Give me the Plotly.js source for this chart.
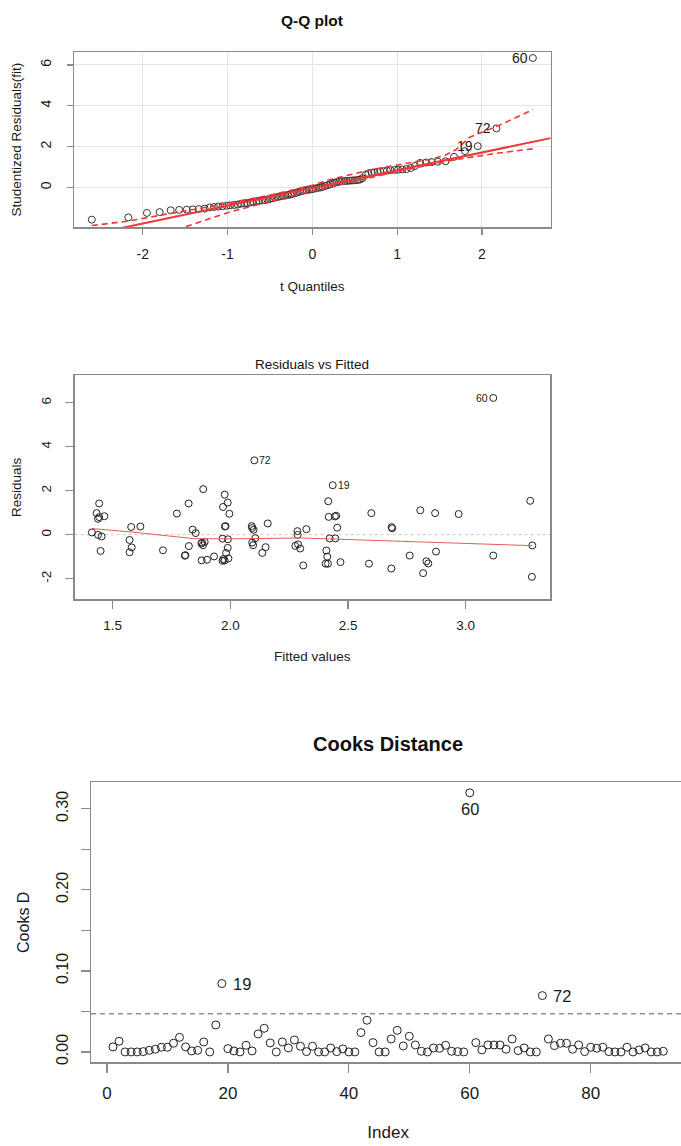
<!DOCTYPE html>
<html><head><meta charset="utf-8">
<script src="https://cdn.plot.ly/plotly-3.0.1.min.js"></script>
<style>html,body{margin:0;padding:0;overflow:hidden;background:#fff;width:681px;height:1146px}#chart{width:690px;height:1146px}</style>
</head><body><div id="chart"></div>
<script>
// ---------- Panel 1: Q-Q plot ----------
const qqTheoretical = [-2.60,-2.17,-1.95,-1.80,-1.67,-1.57,-1.48,-1.41,-1.34,-1.27,-1.21,-1.16,-1.11,-1.06,-1.01,-0.97,-0.92,-0.88,-0.84,-0.80,-0.77,-0.73,-0.70,-0.66,-0.63,-0.59,-0.56,-0.53,-0.50,-0.47,-0.44,-0.41,-0.38,-0.35,-0.32,-0.29,-0.26,-0.24,-0.21,-0.18,-0.15,-0.12,-0.10,-0.07,-0.04,-0.01,
  0.01,0.04,0.07,0.10,0.12,0.15,0.18,0.21,0.24,0.26,0.29,0.32,0.35,0.38,0.41,0.44,0.47,0.50,0.53,0.56,0.59,0.63,0.66,0.70,0.73,0.77,0.80,0.84,0.88,0.92,0.97,1.01,1.06,1.11,1.16,1.21,1.27,1.34,1.41,1.48,1.57,1.67,1.80,1.95,2.17,2.60];
const qqStudentized = [-1.58,-1.47,-1.25,-1.21,-1.12,-1.10,-1.09,-1.08,-1.06,-1.04,-0.98,-0.96,-0.94,-0.92,-0.90,-0.88,-0.86,-0.84,-0.80,-0.78,-0.77,-0.74,-0.70,-0.68,-0.66,-0.64,-0.62,-0.60,-0.56,-0.53,-0.50,-0.47,-0.44,-0.42,-0.40,-0.37,-0.35,-0.32,-0.29,-0.25,-0.21,-0.18,-0.15,-0.13,-0.11,-0.09,
  -0.07,-0.05,-0.02,0.00,0.03,0.07,0.11,0.15,0.19,0.23,0.26,0.28,0.30,0.31,0.32,0.33,0.34,0.35,0.36,0.38,0.45,0.62,0.68,0.72,0.74,0.76,0.78,0.80,0.82,0.84,0.86,0.87,0.88,0.90,0.95,1.05,1.20,1.22,1.24,1.26,1.28,1.50,1.78,2.02,2.89,6.34];
const qqLabelText = ['19','72','60'];
const qqLabelIndex = [89, 90, 91];
const qqLineX = [-2.81, 2.81];
const qqLineY = [-2.475, 2.415];
const qqUpperX = [-2.60,-2.17,-1.68,-1.19,-0.50,0.00,0.20,0.68,1.00,1.38,1.55,1.70,1.85,2.17,2.60];
const qqUpperY = [-1.87,-1.65,-1.28,-0.93,-0.38,0.10,0.38,0.85,1.10,1.37,1.55,1.86,2.45,2.98,3.81];
const qqLowerX = [-1.49,-1.00,-0.50,0.00,0.50,1.00,1.40,1.70,2.17,2.60];
const qqLowerY = [-1.92,-1.24,-0.68,-0.18,0.30,0.78,1.13,1.37,1.67,1.89];

// ---------- Panel 2: Residuals vs Fitted ----------
const fittedValues = [1.412,1.432,1.443,1.438,1.443,1.465,1.438,1.453,1.449,1.572,1.579,1.581,1.572,1.618,1.714,1.773,1.823,1.840,1.853,1.824,1.807,1.809,1.885,1.877,1.884,1.891,1.880,1.878,1.901,1.931,
  1.976,1.969,1.989,1.996,1.977,1.980,1.967,1.990,1.989,1.982,1.970,1.967,1.976,1.992,2.091,2.093,2.099,2.106,2.093,2.097,2.150,2.159,2.136,2.102,2.276,2.285,2.286,2.288,2.297,2.323,2.310,
  2.408,2.412,2.405,2.415,2.416,2.418,2.422,2.446,2.444,2.450,2.454,2.468,2.435,2.599,2.589,2.685,2.688,2.684,2.762,2.807,2.819,2.833,2.841,2.870,2.874,2.970,3.117,3.117,3.274,3.283,3.281];
const residualValues = [0.10,0.98,1.42,0.72,0.80,0.84,-0.01,-0.08,-0.74,-0.24,0.35,-0.58,-0.80,0.37,-0.71,0.96,1.42,0.23,0.07,-0.52,-0.96,-0.93,2.07,-0.40,-0.48,-0.33,-0.36,-1.17,-1.14,-0.99,
  1.82,1.26,1.46,0.95,0.37,0.39,-0.18,-0.21,-0.60,-0.83,-1.11,-1.19,-1.17,-1.08,0.39,0.30,0.22,-0.16,-0.36,-0.48,-0.57,0.51,-0.83,3.38,-0.51,0.16,-0.01,-0.44,-0.63,0.25,-1.40,
  -0.72,-1.00,-1.32,-1.32,1.52,0.81,-0.17,-0.17,0.83,0.86,0.32,-1.25,2.25,0.98,-1.32,0.34,0.29,-1.54,-0.95,1.11,-1.75,-1.21,-1.31,0.98,-0.77,0.94,-0.95,6.22,1.54,-0.49,-1.92];
const residLabelText = ['72','19','60'];
const residLabelIndex = [53, 73, 88];
const residLabelSide = ['right','right','left'];
const lowessX = [1.412,1.60,1.843,2.00,2.30,2.45,2.70,3.00,3.283];
const lowessY = [0.28,0.10,-0.18,-0.19,-0.15,-0.20,-0.30,-0.40,-0.50];

// ---------- Panel 3: Cooks Distance ----------
const cooksD = [0.0062,0.0132,0,0,0,0.0004,0.002,0.0033,0.0058,0.0058,
  0.0107,0.018,0.0062,0.0012,0.002,0.0123,0,0.0333,0.0844,0.0041,
  0.0012,0,0.0082,0.0012,0.0222,0.0292,0.0111,0,0.0123,0.0049,
  0.0148,0.007,0.0004,0.007,0,0,0.0049,0.0004,0.0037,0,
  0,0.0239,0.0391,0.0115,0,0,0.016,0.0267,0.0074,0.0193,
  0.0086,0.0008,0,0.0049,0.0045,0.0082,0.0008,0.0004,0,0.3198,
  0.0115,0.0025,0.0086,0.0086,0.0086,0.0033,0.016,0.0016,0.0049,0,
  0,0.0695,0.016,0.0078,0.0107,0.0107,0.0033,0.0086,0.0004,0.0058,
  0.0045,0.0058,0.0004,0,0,0.0058,0,0.0025,0.0049,0,
  0,0.0008];
const cooksIndex = cooksD.map((_, i) => i + 1);
const cooksCutoff = 0.047;
const cooksLabelText = ['19','60','72'];
const cooksLabelIndex = [19, 60, 72];

// ---------- layout helpers ----------
const W = 690, H = 1146;
const px = v => v / W;
const py = v => 1 - v / H;
const FONT = 'Liberation Sans, Arial, sans-serif';
const BOX = '#8a8a8a';
const TXT = '#1a1a1a';

const circle = (size, color) => ({symbol: 'circle-open', size: size, color: color, line: {width: 1, color: color}});

const traces = [
  {x: qqTheoretical, y: qqStudentized, type: 'scatter', mode: 'markers', marker: circle(7, '#333'), xaxis: 'x', yaxis: 'y', hoverinfo: 'x+y'},
  {x: qqLineX, y: qqLineY, type: 'scatter', mode: 'lines', line: {color: 'rgb(238,55,55)', width: 2}, xaxis: 'x', yaxis: 'y'},
  {x: qqUpperX, y: qqUpperY, type: 'scatter', mode: 'lines', line: {color: 'rgb(238,55,55)', width: 1.6, dash: '6px,4px'}, xaxis: 'x', yaxis: 'y'},
  {x: qqLowerX, y: qqLowerY, type: 'scatter', mode: 'lines', line: {color: 'rgb(238,55,55)', width: 1.6, dash: '6px,4px'}, xaxis: 'x', yaxis: 'y'},
  {x: fittedValues, y: residualValues, type: 'scatter', mode: 'markers', marker: circle(7, '#222'), xaxis: 'x2', yaxis: 'y2'},
  {x: lowessX, y: lowessY, type: 'scatter', mode: 'lines', line: {color: 'rgb(232,90,90)', width: 1}, xaxis: 'x2', yaxis: 'y2'},
  {x: cooksIndex, y: cooksD, type: 'scatter', mode: 'markers', marker: circle(8, '#222'), xaxis: 'x3', yaxis: 'y3'}
];

const annotations = [];
qqLabelIndex.forEach((k, j) => annotations.push({x: qqTheoretical[k], y: qqStudentized[k], xref: 'x', yref: 'y', text: qqLabelText[j], showarrow: false, xanchor: 'right', xshift: -3, font: {family: FONT, size: 14, color: TXT}}));
residLabelIndex.forEach((k, j) => annotations.push({x: fittedValues[k], y: residualValues[k], xref: 'x2', yref: 'y2', text: residLabelText[j], showarrow: false,
  xanchor: residLabelSide[j] === 'right' ? 'left' : 'right', xshift: residLabelSide[j] === 'right' ? 3 : -3, font: {family: FONT, size: 10.5, color: TXT}}));
cooksLabelIndex.forEach((k, j) => {
  const a = {x: k, y: cooksD[k - 1], xref: 'x3', yref: 'y3', text: cooksLabelText[j], showarrow: false, font: {family: FONT, size: 16.5, color: TXT}};
  if (cooksLabelText[j] === '60') { a.xanchor = 'center'; a.yshift = -16; } else { a.xanchor = 'left'; a.xshift = 9; }
  annotations.push(a);
});
annotations.push({xref: 'paper', yref: 'paper', x: px(312.4), y: py(20.8), text: '<b>Q-Q plot</b>', showarrow: false, xanchor: 'center', yanchor: 'middle', font: {family: FONT, size: 15.5, color: '#111'}});
annotations.push({xref: 'paper', yref: 'paper', x: px(312.3), y: py(364), text: 'Residuals vs Fitted', showarrow: false, xanchor: 'center', yanchor: 'middle', font: {family: FONT, size: 13.5, color: '#111'}});
annotations.push({xref: 'paper', yref: 'paper', x: px(388), y: py(743.7), text: '<b>Cooks Distance</b>', showarrow: false, xanchor: 'center', yanchor: 'middle', font: {family: FONT, size: 20, color: '#111'}});

function axis(o) {
  return Object.assign({showline: true, mirror: true, linecolor: BOX, linewidth: 1.5, ticks: 'outside', tickcolor: BOX, tickwidth: 1.2,
    zeroline: false, showgrid: false, tickmode: 'array', fixedrange: true, tickfont: {family: FONT, color: TXT}}, o);
}

const layout = {
  width: W, height: H, margin: {l: 0, r: 0, t: 0, b: 0}, paper_bgcolor: '#fff', plot_bgcolor: '#fff', showlegend: false,
  font: {family: FONT, color: TXT},
  xaxis: axis({domain: [px(74), px(550.7)], range: [-2.81, 2.81], anchor: 'y', tickvals: [-2,-1,0,1,2], ticktext: ['-2','-1','0','1','2'],
    showgrid: true, gridcolor: '#e4e4e4', ticklen: 6, tickfont: {family: FONT, size: 14, color: TXT}, ticklabelstandoff: 8,
    title: {text: 't Quantiles', font: {family: FONT, size: 13.5, color: TXT}, standoff: 20}}),
  yaxis: axis({domain: [py(227), py(52.3)], range: [-1.94, 6.62], anchor: 'x', tickvals: [0,2,4,6], ticktext: ['0','2','4','6'], tickangle: -90,
    showgrid: true, gridcolor: '#e4e4e4', ticklen: 6, tickfont: {family: FONT, size: 14, color: TXT}, ticklabelstandoff: 10,
    title: {text: 'Studentized Residuals(fit)', font: {family: FONT, size: 13.5, color: TXT}, standoff: 13}}),
  xaxis2: axis({domain: [px(74.7), px(550)], range: [1.339, 3.358], anchor: 'y2', tickvals: [1.5,2,2.5,3], ticktext: ['1.5','2.0','2.5','3.0'],
    ticklen: 8, tickfont: {family: FONT, size: 13.5, color: TXT}, ticklabelstandoff: 5,
    title: {text: 'Fitted values', font: {family: FONT, size: 13.5, color: TXT}, standoff: 19}}),
  yaxis2: axis({domain: [py(599.3), py(375.3)], range: [-2.94, 7.25], anchor: 'x2', tickvals: [-2,0,2,4,6], ticktext: ['-2','0','2','4','6'], tickangle: -90,
    ticklen: 8, tickfont: {family: FONT, size: 13.5, color: TXT}, ticklabelstandoff: 9,
    title: {text: 'Residuals', font: {family: FONT, size: 13.5, color: TXT}, standoff: 14}}),
  xaxis3: axis({domain: [px(91), px(685.3)], range: [-2.64, 95.64], anchor: 'y3', tickvals: [0,20,40,60,80], ticktext: ['0','20','40','60','80'],
    ticklen: 9, tickfont: {family: FONT, size: 17, color: TXT}, ticklabelstandoff: 6,
    title: {text: 'Index', font: {family: FONT, size: 17, color: TXT}, standoff: 24}}),
  yaxis3: axis({domain: [py(1062.3), py(782.3)], range: [-0.0128, 0.3328], anchor: 'x3', tickvals: [0,0.05,0.10,0.15,0.20,0.25,0.30],
    ticktext: ['0.00','','0.10','','0.20','','0.30'], tickangle: -90,
    ticklen: 9, tickfont: {family: FONT, size: 16, color: TXT}, ticklabelstandoff: 6,
    title: {text: 'Cooks D', font: {family: FONT, size: 16, color: TXT}, standoff: 20}}),
  shapes: [
    {type: 'line', xref: 'x2 domain', yref: 'y2', x0: 0, x1: 1, y0: 0, y1: 0, line: {color: '#c8c8c8', width: 1, dash: 'dot'}, layer: 'below'},
    {type: 'line', xref: 'x3 domain', yref: 'y3', x0: 0, x1: 1, y0: cooksCutoff, y1: cooksCutoff, line: {color: '#8f8f8f', width: 1.5, dash: '5px,4px'}, layer: 'below'}
  ],
  annotations: annotations
};

Plotly.newPlot('chart', traces, layout, {displayModeBar: false, staticPlot: true});
</script></body></html>
